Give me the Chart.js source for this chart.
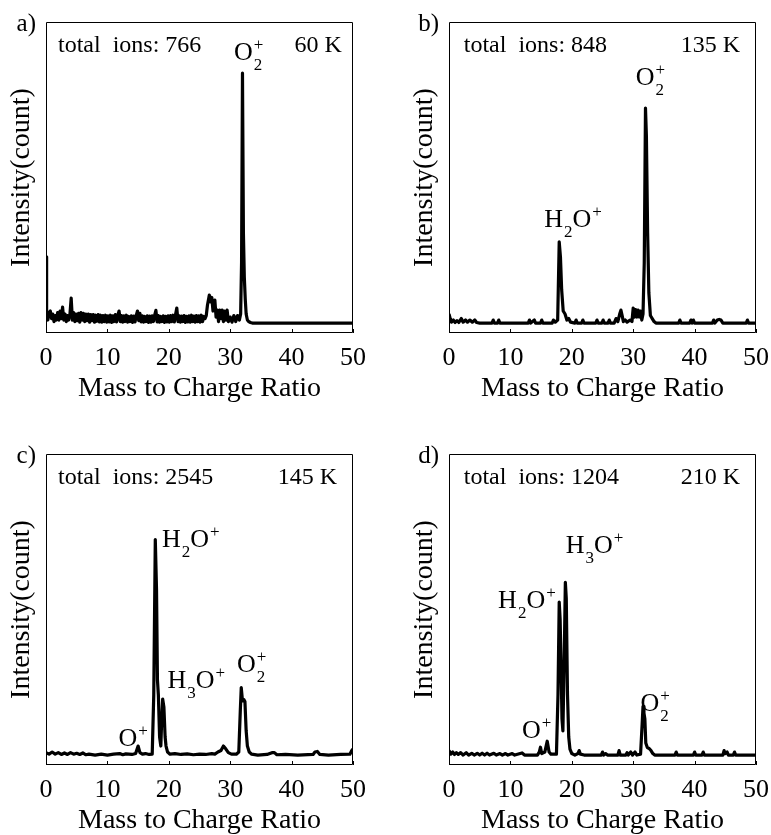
<!DOCTYPE html>
<html>
<head>
<meta charset="utf-8">
<script src="https://cdn.jsdelivr.net/npm/chart.js@4.4.1/dist/chart.umd.min.js"></script>
<style>
  html, body { margin: 0; padding: 0; background: #fff; overflow: hidden; }
  #page { position: relative; width: 771px; height: 835px; }
  #page canvas { position: absolute; }
</style>
</head>
<body>
<div id="page">
  <canvas id="chartA" width="368" height="417" style="left:0px;top:0px"></canvas>
  <canvas id="chartB" width="368" height="417" style="left:403px;top:0px"></canvas>
  <canvas id="chartC" width="368" height="417" style="left:0px;top:432px"></canvas>
  <canvas id="chartD" width="368" height="417" style="left:403px;top:432px"></canvas>
</div>

<script>
/* ===================================
   Mass spectra at four temperatures
   =================================== */

// x axis ticks
const massTicks = [0, 10, 20, 30, 40, 50];

// [mass/charge, intensity] (arbitrary units, peak O2+ at 60 K ~ 83)
const spectrumA = [
  [0, 22], [0.1, 3], [0.3, 1], [0.5, 3.5], [0.7, 4], [0.9, 1.5], [1.1, 3], [1.3, 0.5], [1.5, 2.5], [1.7, 1],
  [1.9, 3.5], [2.1, 1], [2.3, 4], [2.5, 1.5], [2.7, 5.3], [2.9, 1], [3.1, 3], [3.3, 0.5], [3.5, 2.5], [3.7, 1],
  [3.9, 3], [4.1, 8.3], [4.3, 1],
  [4.5, 3.5], [4.7, 0.5], [4.9, 3], [5.1, 0.8], [5.3, 3.2], [5.5, 0.3], [5.7, 3.5], [5.9, 1], [6.1, 3.2], [6.3, 0.5],
  [6.5, 3], [6.7, 0.8], [6.9, 3], [7.1, 0.3], [7.3, 2.8], [7.5, 0.8], [7.7, 2.8], [7.9, 0.3], [8.1, 2.6], [8.3, 0.6],
  [8.5, 2.8], [8.7, 0.4], [8.9, 2.6], [9.1, 0.3], [9.3, 2.5], [9.5, 0.5], [9.7, 2.6], [9.9, 0.3], [10.1, 2.4], [10.3, 0.4],
  [10.5, 2.6], [10.7, 0.2], [10.9, 2.4], [11.1, 0.5], [11.3, 2.8], [11.5, 0.4], [11.7, 2.6], [11.9, 4], [12.1, 0.5], [12.3, 2.5],
  [12.5, 0.3], [12.7, 2.4], [12.9, 0.5], [13.1, 2.6], [13.3, 0.3], [13.5, 2.2], [13.7, 0.5], [13.9, 2.4], [14.1, 0.2], [14.3, 2.3],
  [14.5, 0.4], [14.7, 2.5], [14.9, 4], [15.1, 0.8], [15.3, 3.2], [15.5, 0.4], [15.7, 2.4], [15.9, 0.3], [16.1, 2.2], [16.3, 0.5],
  [16.5, 2.4], [16.7, 0.2], [16.9, 2.3], [17.1, 0.3], [17.3, 2.4], [17.5, 0.5], [17.7, 2.6], [17.9, 4.2], [18.1, 0.4], [18.3, 2.5],
  [18.5, 0.3], [18.7, 2.2], [18.9, 0.5], [19.1, 2.4], [19.3, 0.2], [19.5, 2.2], [19.7, 0.4], [19.9, 2.4], [20.1, 0.3], [20.3, 2.5],
  [20.5, 0.5], [20.7, 2.6], [20.9, 0.4], [21.1, 2.8], [21.3, 5], [21.5, 0.5], [21.7, 2.4], [21.9, 0.3], [22.1, 2.3], [22.3, 0.5],
  [22.5, 2.5], [22.7, 0.2], [22.9, 2.2], [23.1, 0.4], [23.3, 2.4], [23.5, 0.3], [23.7, 2.6], [23.9, 0.5], [24.1, 2.3], [24.3, 0.3],
  [24.5, 2.5], [24.7, 0.5], [24.9, 2.4], [25.1, 0.3], [25.3, 2.6], [25.5, 0.5], [25.7, 2.2], [25.9, 1.5],
  [26.1, 2.5], [26.3, 6], [26.6, 9.3], [26.8, 7], [27.0, 8.5], [27.2, 4],
  [27.5, 7.6], [27.7, 2], [27.9, 4.3], [28.1, 0.5], [28.3, 4.3], [28.5, 1.5], [28.7, 4.3], [28.9, 0.5], [29.1, 4], [29.3, 1],
  [29.5, 4.3], [29.7, 0.5], [30.0, 2], [30.3, 0.3], [30.6, 2.5], [30.9, 0.5], [31.2, 2.5], [31.5, 1], [31.7, 3], [31.85, 20],
  [32.0, 83], [32.15, 30], [32.3, 15.2], [32.45, 8], [32.6, 3], [32.8, 1], [33.0, 0.5], [33.3, 0.2], [33.6, 0], [50, 0]
];

const spectrumB = [
  [0, 3], [0.2, 1.5], [0.4, 0.3], [0.7, 1], [1, 0.2], [1.3, 0.8], [1.6, 0.2], [2, 1.5], [2.3, 0.3], [2.7, 1],
  [3, 0.3], [3.4, 1], [3.8, 0.3], [4.2, 1], [4.5, 0.2], [5, 0], [7, 0], [7.2, 1], [7.4, 0], [7.9, 0],
  [8.1, 1], [8.3, 0], [12.9, 0], [13.1, 1], [13.3, 0], [13.9, 1], [14.1, 0], [14.9, 0], [15.1, 1], [15.3, 0],
  [16.8, 0], [17, 1], [17.3, 0.3], [17.7, 1], [17.95, 27], [18.15, 22], [18.35, 11], [18.6, 4], [18.9, 3], [19.2, 1],
  [19.5, 1.5], [19.8, 0.3], [20.5, 0], [20.7, 1], [20.9, 0], [21.6, 0], [21.8, 1], [22, 0], [23.9, 0], [24.1, 1],
  [24.3, 0], [24.9, 0], [25.1, 1], [25.3, 0], [25.9, 0], [26.1, 1], [26.3, 0], [26.9, 0], [27.2, 1.5], [27.5, 0.5],
  [27.8, 3], [28, 4.3], [28.2, 2.5], [28.4, 0.5], [28.7, 1], [29, 0.3], [29.5, 1], [29.8, 0.5], [30, 5], [30.2, 2],
  [30.4, 4.5], [30.6, 2], [30.8, 4.3], [31, 2], [31.2, 4], [31.4, 1], [31.6, 3], [31.8, 20], [32, 71.4], [32.15, 62],
  [32.35, 30], [32.55, 10], [32.8, 2.5], [33.1, 1.5], [33.4, 0.5], [33.7, 0], [37.4, 0], [37.6, 1], [37.8, 0], [39.2, 0],
  [39.4, 1], [39.6, 0], [39.8, 1], [40, 0], [42.9, 0], [43.1, 1], [43.3, 0], [43.7, 1], [44, 1.2], [44.3, 1],
  [44.6, 0], [48.4, 0], [48.6, 1], [48.8, 0], [50, 0]
];

const spectrumC = [
  [0, 0.8], [0.5, 0.3], [1, 1], [1.5, 0.3], [2, 0.8], [2.5, 0.2], [3, 0.7], [3.5, 0.2], [4, 0.8], [4.5, 0.3],
  [5, 0.6], [5.5, 0.2], [6, 0.7], [6.5, 0.1], [7, 0.3], [8, 0], [9, 0.3], [10, 0], [11, 0.3], [12, 0.5],
  [12.5, 0.1], [13, 0.4], [14, 0.2], [14.6, 0.5], [15, 3], [15.3, 0.8], [15.7, 0.3], [16.2, 0.5], [16.8, 0.2], [17.3, 0.3],
  [17.55, 20], [17.8, 71.6], [18.0, 55], [18.15, 25], [18.3, 20], [18.5, 6], [18.7, 3], [18.85, 12], [19.0, 18.6], [19.2, 16],
  [19.4, 6], [19.55, 3], [19.8, 1], [20.2, 0.3], [21, 0.5], [22, 0.2], [23, 0.4], [24, 0.1], [25, 0.3], [26, 0.2],
  [27, 0.5], [27.5, 0.3], [28, 1], [28.5, 1.5], [28.9, 3], [29.3, 2], [29.7, 0.8], [30.2, 0.3], [31, 0.3], [31.4, 1],
  [31.65, 15], [31.8, 22.4], [32.0, 18], [32.2, 18.5], [32.4, 17.8], [32.6, 8], [32.8, 3], [33.1, 1], [33.5, 0.3], [34.5, 0],
  [36, 0.2], [36.8, 0.8], [37.2, 0.8], [37.6, 0.1], [39, 0.2], [41, 0], [43.5, 0.2], [43.8, 1], [44.2, 1.2], [44.6, 0.2],
  [46, 0], [48, 0.2], [49.5, 0.3], [49.8, 1.5], [50, 2]
];

const spectrumD = [
  [0, 1.5], [0.3, 0.3], [0.6, 1], [0.9, 0.2], [1.2, 0.8], [1.5, 0.2], [1.9, 0.8], [2.3, 0], [2.8, 0.8], [3.2, 0],
  [3.7, 0.6], [4.1, 0], [4.6, 0.6], [5, 0], [5.4, 0.6], [5.8, 0], [6.2, 0.6], [6.6, 0], [7.3, 0.6], [7.7, 0],
  [8.3, 0.5], [8.7, 0], [9.2, 0.5], [9.6, 0], [10.3, 0.5], [10.7, 0], [11.9, 0.7], [12.3, 0], [14.4, 0], [14.7, 1],
  [14.9, 2.6], [15.1, 0.5], [15.6, 1], [16.0, 4.6], [16.3, 1], [16.6, 0.3], [17.5, 0.3], [17.75, 20], [17.95, 50.8], [18.1, 45],
  [18.25, 30], [18.4, 12], [18.55, 8], [18.75, 30], [18.95, 57.4], [19.1, 52], [19.3, 20], [19.5, 6], [19.7, 2], [20, 0.5],
  [20.5, 0], [21, 0.5], [21.2, 1.5], [21.4, 0.3], [22, 0], [24.8, 0], [25, 1], [25.2, 0], [25.5, 0.5], [25.8, 0],
  [27.5, 0], [27.7, 1.5], [27.9, 0], [28.8, 0], [29, 0.8], [29.2, 0], [29.6, 1], [29.9, 0], [30.3, 1], [30.6, 0],
  [31.2, 0.3], [31.45, 10], [31.6, 16.2], [31.75, 14], [31.9, 12], [32.05, 4], [32.3, 2.5], [32.6, 2.2], [32.9, 1.5], [33.2, 0.5],
  [33.5, 0], [36.8, 0], [37, 1], [37.2, 0], [39.8, 0], [40, 1], [40.2, 0], [41.2, 0], [41.4, 1], [41.6, 0],
  [44.6, 0], [44.8, 1.5], [45, 0.5], [45.3, 1], [45.5, 0], [46.3, 0], [46.5, 1], [46.7, 0], [50, 0]
];

// panel texts
const panelTags = ['a)', 'b)', 'c)', 'd)'];
const ionTotals = ['total  ions: 766', 'total  ions: 848', 'total  ions: 2545', 'total  ions: 1204'];
const temperatures = ['60 K', '135 K', '145 K', '210 K'];

// ion formulas: plain text, subscript, superscript pieces
const O2 = [{ t: 'O' }, { sub: '2', sup: '+' }];
const H2O = [{ t: 'H' }, { sub: '2' }, { t: 'O' }, { sup: '+' }];
const H3O = [{ t: 'H' }, { sub: '3' }, { t: 'O' }, { sup: '+' }];
const Oplus = [{ t: 'O' }, { sup: '+' }];

// label anchors [mass, intensity] = left edge / baseline of the formula
const ionLabelsA = [{ f: O2, at: [30.6, 87.4] }];
const ionLabelsB = [{ f: O2, at: [30.4, 79] }, { f: H2O, at: [15.5, 32] }];
const ionLabelsC = [{ f: H2O, at: [18.9, 69.2] }, { f: H3O, at: [19.8, 22.4] }, { f: O2, at: [31.1, 27.7] }, { f: Oplus, at: [11.8, 3] }];
const ionLabelsD = [{ f: H3O, at: [19.0, 67] }, { f: H2O, at: [8.0, 49] }, { f: O2, at: [31.2, 14.5] }, { f: Oplus, at: [11.9, 5.6] }];

const SERIF = "'Liberation Serif', 'Times New Roman', serif";


function drawFormula(ctx, parts, x, y) {
  let cx = x;
  parts.forEach(p => {
    if (p.t) {
      ctx.font = '26px ' + SERIF;
      ctx.fillText(p.t, cx, y);
      cx += ctx.measureText(p.t).width;
    } else {
      ctx.font = '17px ' + SERIF;
      let w = 0;
      if (p.sub) { ctx.fillText(p.sub, cx + 1, y + 10); w = Math.max(w, ctx.measureText(p.sub).width); }
      if (p.sup) { ctx.fillText(p.sup, cx + 1, y - 10); w = Math.max(w, ctx.measureText(p.sup).width); }
      cx += w + 1;
    }
  });
}


/* ===================================
   Box, inner ticks and annotations
   =================================== */
const framePlugin = {
  id: 'frame',
  afterDatasetsDraw(chart) {
    const { ctx, chartArea: a, scales: { x } } = chart;
    ctx.save();
    ctx.strokeStyle = '#000';
    ctx.lineWidth = 1;
    ctx.beginPath();
    ctx.rect(a.left + 0.5, a.top + 0.5, a.right - a.left - 1, a.bottom - a.top - 1);
    massTicks.forEach(v => {
      const px = Math.round(x.getPixelForValue(v)) + 0.5;
      ctx.moveTo(px, a.bottom);
      ctx.lineTo(px, a.bottom - 4);
    });
    ctx.stroke();
    ctx.restore();
  },
  afterDraw(chart, args, opts) {
    const { ctx, chartArea: a, scales: { x, y } } = chart;
    ctx.save();
    ctx.fillStyle = '#000';
    ctx.textBaseline = 'alphabetic';

    // panel tag outside the box
    ctx.font = '25px ' + SERIF;
    ctx.textAlign = 'right';
    ctx.fillText(opts.tag, a.left - 10, a.top + 9);

    // total ions / temperature
    ctx.font = '24px ' + SERIF;
    ctx.textAlign = 'left';
    ctx.fillText(opts.total, x.getPixelForValue(opts.totalAt), y.getPixelForValue(90));
    ctx.textAlign = 'right';
    ctx.fillText(opts.temp, x.getPixelForValue(opts.tempAt), y.getPixelForValue(90));

    ctx.textAlign = 'left';
    opts.ions.forEach(l => drawFormula(ctx, l.f, x.getPixelForValue(l.at[0]), y.getPixelForValue(l.at[1])));
    ctx.restore();
  }
};


function makeSpectrum(id, points, frame) {

  const ctx = document.getElementById(id).getContext('2d');

  new Chart(ctx, {
    type: 'line',
    data: {
      datasets: [{
        data: points.map(p => ({ x: p[0], y: p[1] })),
        borderColor: '#000',
        borderWidth: 3.2,
        borderJoinStyle: 'round',
        pointRadius: 0,
        tension: 0,
        fill: false
      }]
    },
    options: {
      responsive: false,
      animation: false,
      events: [],
      layout: { padding: { top: 22, right: 15, left: 0, bottom: 0 } },
      plugins: {
        legend: { display: false },
        tooltip: { enabled: false },
        frame: frame
      },
      scales: {
        x: {
          type: 'linear',
          min: 0,
          max: 50,
          // fixed axis band, no extra room for the edge labels
          afterFit: s => { s.height = 84; s.paddingLeft = 0; s.paddingRight = 0; },
          afterBuildTicks: s => { s.ticks = massTicks.map(v => ({ value: v })); },
          grid: { display: false, drawTicks: false },
          border: { display: false },
          ticks: {
            maxRotation: 0,
            padding: 10,
            color: '#000',
            font: { family: SERIF, size: 26 }
          },
          title: {
            display: true,
            text: 'Mass to Charge Ratio',
            color: '#000',
            font: { family: SERIF, size: 28 },
            padding: { top: 0, bottom: 12 }
          }
        },
        y: {
          min: -3.3,
          max: 100,
          afterFit: s => { s.width = 46; },
          grid: { display: false, drawTicks: false },
          border: { display: false },
          ticks: { display: false },
          title: {
            display: true,
            text: 'Intensity(count)',
            color: '#000',
            font: { family: SERIF, size: 28 },
            padding: { top: 5, bottom: 0 }
          }
        }
      }
    },
    plugins: [framePlugin]
  });
}

makeSpectrum('chartA', spectrumA, { tag: panelTags[0], total: ionTotals[0], totalAt: 1.95, temp: temperatures[0], tempAt: 48.2, ions: ionLabelsA });
makeSpectrum('chartB', spectrumB, { tag: panelTags[1], total: ionTotals[1], totalAt: 2.4, temp: temperatures[1], tempAt: 47.4, ions: ionLabelsB });
makeSpectrum('chartC', spectrumC, { tag: panelTags[2], total: ionTotals[2], totalAt: 1.95, temp: temperatures[2], tempAt: 47.4, ions: ionLabelsC });
makeSpectrum('chartD', spectrumD, { tag: panelTags[3], total: ionTotals[3], totalAt: 2.4, temp: temperatures[3], tempAt: 47.4, ions: ionLabelsD });
</script>
</body>
</html>
